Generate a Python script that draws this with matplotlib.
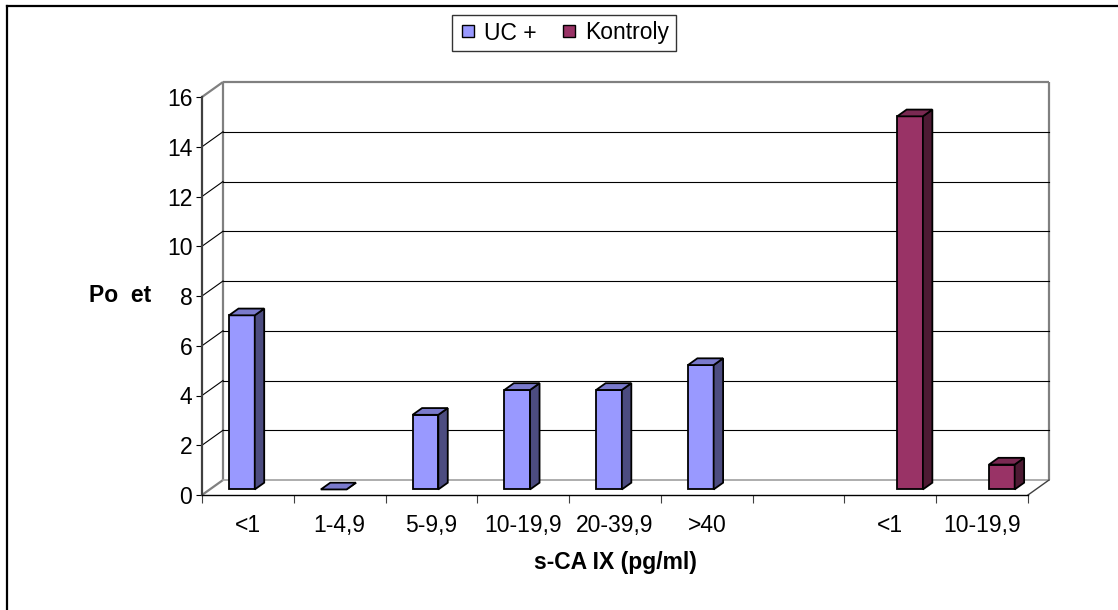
import matplotlib.pyplot as plt
from matplotlib.patches import Polygon
from matplotlib.lines import Line2D

# Data
categories = ['<1', '1-4,9', '5-9,9', '10-19,9', '20-39,9', '>40', '', '<1', '10-19,9']
uc_pos = [0, 1, 2, 3, 4, 5]
uc_values = [7, 0, 3, 4, 4, 5]
ko_pos = [7, 8]
ko_values = [15, 1]
yticks = [0, 2, 4, 6, 8, 10, 12, 14, 16]

plt.rcParams['font.family'] = ['Liberation Sans', 'DejaVu Sans']
plt.rcParams['font.size'] = 16.5

fig = plt.figure(figsize=(11.18, 6.1), dpi=100)
ax = fig.add_axes([202 / 1118, 115 / 610, 826 / 1118, 398 / 610])
ax.set_xlim(0, len(categories))
ax.set_ylim(0, 16)

# depth of the back wall (data units) and where the bars sit in it
DX, DY = 0.229, 0.603
F, D = 0.37, 0.45
W = 0.28

xmax = len(categories)

# walls and floor edges
wall = dict(color='#808080', lw=1.6, clip_on=False, zorder=1, solid_capstyle='butt')
ax.plot([0, DX], [0, DY], **wall)
ax.plot([0, DX], [16, 16 + DY], **wall)
ax.plot([DX, DX], [DY, 16 + DY], **wall)
ax.plot([DX, xmax + DX], [16 + DY, 16 + DY], **wall)
ax.plot([xmax + DX, xmax + DX], [DY, 16 + DY], **wall)
ax.plot([DX, xmax + DX], [DY, DY], color='#a0a0a0', lw=1.2, clip_on=False, zorder=1)
ax.plot([xmax, xmax + DX], [0, DY], color='#404040', lw=1.0, clip_on=False, zorder=1)

# gridlines on the back wall and the side wall
for y in yticks[1:-1]:
    ax.plot([DX, xmax + DX], [y + DY, y + DY], color='black', lw=0.8,
            clip_on=False, zorder=1)
    ax.plot([0, DX], [y, y + DY], color='black', lw=0.8, clip_on=False, zorder=1)


def draw_bars(pos, values, offset, front, side, top, label):
    xs = [p + offset + F * DX for p in pos]
    by = F * DY
    ax.bar(xs, values, width=W, bottom=by, align='edge', color=front,
           edgecolor='black', lw=1.3, zorder=3, label=label)
    for x, v in zip(xs, values):
        t = by + v
        ax.add_patch(Polygon([(x + W, by), (x + W + D * DX, by + D * DY),
                              (x + W + D * DX, t + D * DY), (x + W, t)],
                             closed=True, facecolor=side, edgecolor='black',
                             lw=1.3, zorder=3, clip_on=False))
        ax.add_patch(Polygon([(x, t), (x + W, t), (x + W + D * DX, t + D * DY),
                              (x + D * DX, t + D * DY)],
                             closed=True, facecolor=top, edgecolor='black',
                             lw=1.3, zorder=4, clip_on=False))


draw_bars(uc_pos, uc_values, 0.21, '#9999ff', '#4c4c80', '#7a7acc', 'UC +')
draw_bars(ko_pos, ko_values, 0.49, '#993366', '#4d1a33', '#7a2952', 'Kontroly')

# axes
for s in ['top', 'right']:
    ax.spines[s].set_visible(False)
ax.spines['left'].set_color('#404040')
ax.spines['left'].set_linewidth(1.6)
ax.spines['bottom'].set_color('black')
ax.spines['bottom'].set_linewidth(1.0)
ax.patch.set_visible(False)

ax.set_yticks(yticks)
ax.tick_params(axis='y', length=4, width=0.8, pad=3)
ax.set_xticks(range(len(categories) + 1))
ax.set_xticklabels([])
ax.tick_params(axis='x', which='major', length=6, width=0.8, color='#404040')
ax.set_xticks([i + 0.5 for i in range(len(categories))], minor=True)
ax.set_xticklabels(categories, minor=True)
ax.tick_params(axis='x', which='minor', length=0, pad=14)

fig.text(615 / 1118, 1 - 563 / 610, 's-CA IX (pg/ml)', ha='center', va='center',
         fontweight='bold')
fig.text(120 / 1118, 1 - 296 / 610, 'Po  et', ha='center', va='center',
         fontweight='bold')

# legend
handles = [Line2D([], [], ls='none', marker='s', markersize=9, markerfacecolor=c,
                  markeredgecolor='black', markeredgewidth=1.0)
           for c in ['#9999ff', '#993366']]
leg = fig.legend(handles, ['UC +', 'Kontroly'], loc='center',
                 bbox_to_anchor=(564 / 1118, 1 - 33 / 610), ncol=2,
                 frameon=True, fancybox=False, handlelength=0.8,
                 handletextpad=0.3, columnspacing=1.0, borderpad=0.3)
leg.get_frame().set_edgecolor('black')
leg.get_frame().set_linewidth(1.0)

# outer frame
fig.add_artist(Line2D([7 / 1118, 7 / 1118], [0, 1 - 6 / 610], color='black', lw=1.6,
                      transform=fig.transFigure))
fig.add_artist(Line2D([7 / 1118, 1], [1 - 6 / 610, 1 - 6 / 610], color='black', lw=1.6,
                      transform=fig.transFigure))

fig.savefig('out.png', dpi=100)
